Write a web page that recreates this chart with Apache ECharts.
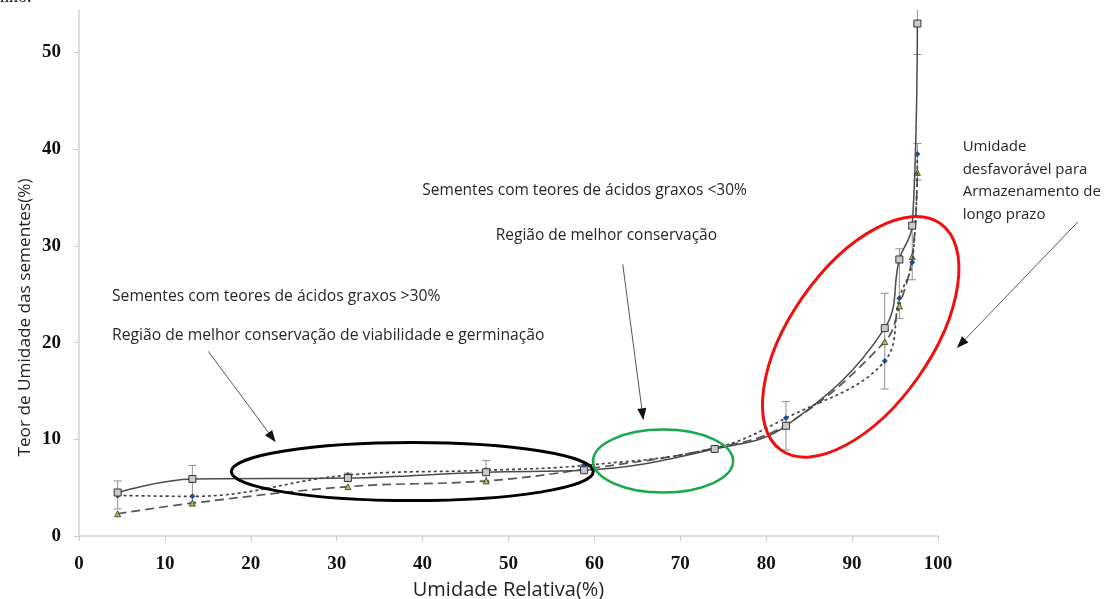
<!DOCTYPE html>
<html><head><meta charset="utf-8">
<script src="https://cdn.jsdelivr.net/npm/echarts@6/dist/echarts.min.js"></script>
<style>html,body{margin:0;padding:0;background:#fff}#c{width:1110px;height:599px}</style>
</head><body><div id="c"></div>
<script>
// ---- data ----
const rh = [4.5, 13.2, 31.3, 47.4, 58.8, 74.0, 82.3, 93.8, 95.5, 97.0, 97.6];
const serieSolid = [4.5, 5.9, 6.0, 6.6, 6.8, 9.0, 11.4, 21.5, 28.6, 32.1, 53.0];
const serieDot = [4.2, 4.1, 6.3, 6.8, 7.3, 9.1, 12.2, 18.1, 24.6, 28.3, 39.5];
const serieDash = [2.3, 3.4, 5.1, 5.7, 6.9, 9.1, 11.5, 20.1, 23.8, 28.9, 37.6];
const errX = [4.5, 13.2, 31.3, 47.4, 58.8, 82.3, 93.8, 95.5, 97.0, 97.6, 97.6];
const errLow = [2.8, 3.5, 5.8, 5.6, 6.6, 8.9, 15.2, 22.5, 26.5, 49.8, 36.8];
const errHigh = [5.7, 7.3, 6.5, 7.8, 7.4, 13.9, 25.1, 29.7, 32.3, 56.3, 40.6];
const xTicks = [0, 10, 20, 30, 40, 50, 60, 70, 80, 90, 100];
const yTicks = [0, 10, 20, 30, 40, 50];

const pts = a => rh.map((x, i) => [x, a[i]]);
const chart = echarts.init(document.getElementById('c'));
const tickFont = {fontFamily: 'Liberation Serif', fontWeight: 'bold', fontSize: 19, color: '#111'};
const annFont = 'Open Sans';

chart.setOption({
  animation: false,
  grid: {left: 79, right: 172, top: 10, bottom: 63, containLabel: false, outerBoundsMode: 'none'},
  xAxis: {
    type: 'value', min: 0, max: 100, interval: 10,
    axisLine: {show: true, lineStyle: {color: '#d0d0d0', width: 1.5}},
    axisTick: {show: true, length: 5, lineStyle: {color: '#c8c8c8'}, customValues: xTicks},
    splitLine: {show: false},
    axisLabel: Object.assign({margin: 19, customValues: xTicks}, tickFont),
    name: 'Umidade Relativa(%)', nameLocation: 'middle', nameGap: 44,
    nameTextStyle: {fontFamily: annFont, fontSize: 20, color: '#222'}
  },
  yAxis: {
    type: 'value', min: 0, max: 54.4, interval: 10,
    axisLine: {show: true, lineStyle: {color: '#d0d0d0', width: 1.5}},
    axisTick: {show: true, length: 5, lineStyle: {color: '#c8c8c8'}, customValues: yTicks},
    splitLine: {show: false},
    axisLabel: Object.assign({margin: 18, customValues: yTicks}, tickFont)
  },
  series: [
    {
      type: 'custom', name: 'erro', clip: true, z: 1,
      data: errX.map((x, i) => [x, errLow[i], errHigh[i]]),
      renderItem(params, api) {
        const x = api.value(0);
        const p1 = api.coord([x, api.value(2)]);
        const p2 = api.coord([x, api.value(1)]);
        const w = 4, st = {stroke: '#8f8f8f', lineWidth: 1};
        return {type: 'group', children: [
          {type: 'line', shape: {x1: p1[0], y1: p1[1], x2: p2[0], y2: p2[1]}, style: st},
          {type: 'line', shape: {x1: p1[0] - w, y1: p1[1], x2: p1[0] + w, y2: p1[1]}, style: st},
          {type: 'line', shape: {x1: p2[0] - w, y1: p2[1], x2: p2[0] + w, y2: p2[1]}, style: st}
        ]};
      }
    },
    {
      type: 'line', name: 'tracejada', data: pts(serieDash), smooth: 0.4, z: 2,
      lineStyle: {color: '#555', width: 1.7, type: [9, 5]},
      symbol: 'triangle', symbolSize: 6,
      itemStyle: {color: '#a8c43c', borderColor: '#333', borderWidth: 0.8}
    },
    {
      type: 'line', name: 'pontilhada', data: pts(serieDot), smooth: 0.4, z: 3,
      lineStyle: {color: '#444', width: 1.7, type: [3, 3]},
      symbol: 'diamond', symbolSize: 6,
      itemStyle: {color: '#1f4e8c', borderColor: '#1f4e8c', borderWidth: 0}
    },
    {
      type: 'line', name: 'continua', data: pts(serieSolid), smooth: 0.4, z: 4,
      lineStyle: {color: '#4a4a4a', width: 1.5},
      symbol: 'rect', symbolSize: 7,
      itemStyle: {color: '#c9c9c9', borderColor: '#333', borderWidth: 1}
    }
  ]
});

// ---- annotations anchored in data space ----
const P = (x, y) => chart.convertToPixel({xAxisIndex: 0, yAxisIndex: 0}, [x, y]);
function ellipse(c, rx, ry, color, lw, rotDeg) {
  const p = P(c[0], c[1]);
  return {type: 'ellipse', shape: {cx: 0, cy: 0, rx, ry}, x: p[0], y: p[1],
    rotation: (rotDeg || 0) * Math.PI / 180,
    style: {fill: null, stroke: color, lineWidth: lw}, z: 10};
}
function arrow(a, b) {
  const s = P(a[0], a[1]), e = P(b[0], b[1]);
  const ang = Math.atan2(e[1] - s[1], e[0] - s[0]);
  const L = 12, W = 4.5;
  const bx = e[0] - L * Math.cos(ang), by = e[1] - L * Math.sin(ang);
  const nx = -Math.sin(ang) * W, ny = Math.cos(ang) * W;
  return [
    {type: 'line', shape: {x1: s[0], y1: s[1], x2: bx, y2: by}, style: {stroke: '#555', lineWidth: 1}, z: 10},
    {type: 'polygon', shape: {points: [[e[0], e[1]], [bx + nx, by + ny], [bx - nx, by - ny]]}, style: {fill: '#111'}, z: 10}
  ];
}
function label(x, y, txt, fs, lh) {
  const p = P(x, y);
  return {type: 'text', x: p[0], y: p[1], z: 10,
    style: {text: txt, fontFamily: annFont, fontSize: fs, fill: '#262626', lineHeight: lh || 20,
      align: 'left', verticalAlign: 'middle'}};
}
const yTitle = P(0, 22.6);
chart.setOption({graphic: [
  ellipse([38.8, 6.66], 181, 29, '#000', 3),
  ellipse([68.0, 7.75], 70, 31.5, '#19a84a', 2.5),
  ellipse([91.0, 20.6], 138.5, 70.3, '#f01010', 3, 54.9),
  ...arrow([15.05, 19.1], [22.9, 9.7]),
  ...arrow([63.3, 28.1], [65.7, 11.97]),
  ...arrow([116.3, 32.5], [102.2, 19.45]),
  label(3.84, 24.73, 'Sementes com teores de ácidos graxos >30%', 15.7),
  label(3.84, 20.77, 'Região de melhor conservação de viabilidade e germinação', 15.7),
  label(39.97, 35.77, 'Sementes com teores de ácidos graxos <30%', 15.5),
  label(48.51, 31.12, 'Região de melhor conservação', 15.5),
  label(102.87, 36.75, 'Umidade\ndesfavorável para\nArmazenamento de\nlongo prazo', 15, 22.7),
  {type: 'text', x: 25, y: yTitle[1], rotation: Math.PI / 2,
    style: {text: 'Teor de Umidade das sementes(%)', fontFamily: annFont, fontSize: 17.2, fill: '#222',
      align: 'center', verticalAlign: 'middle'}},
  {type: 'text', x: 0, y: -12, style: {text: 'nho.', fontFamily: 'Liberation Serif', fontSize: 18, fill: '#111'}}
]});
</script></body></html>
